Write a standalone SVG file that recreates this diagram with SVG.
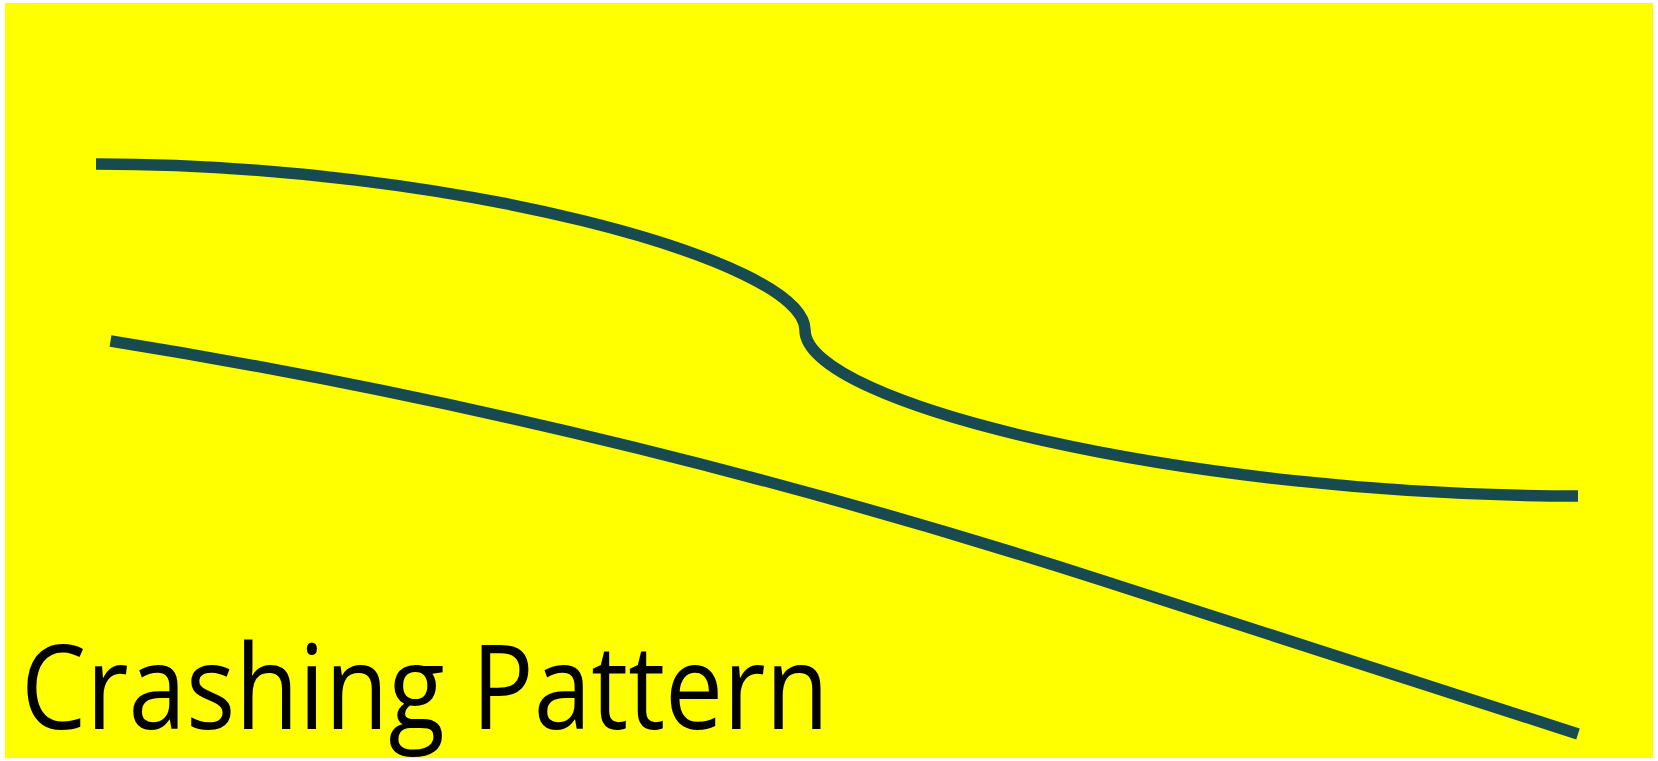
<svg xmlns="http://www.w3.org/2000/svg" width="1658" height="761" viewBox="0 0 1658 761">
  <style>
    .line { fill: none; stroke: #174b50; stroke-width: 11.5; stroke-linecap: butt; }
    .title { font-family: "Open Sans", "Noto Sans", "Liberation Sans", sans-serif; font-size: 118px; fill: #000000; }
  </style>
  <rect id="background" x="5" y="3" width="1648" height="755" fill="#ffff00"/>
  <g id="connectors">
    <path id="upper-curve" class="line" d="M96,164 C450,164 805,260 805,330 C805,405 1191,496 1578,496"/>
    <path id="lower-line" class="line" d="M110.5,341 Q607,420.5 1103.5,580.9 L1578,734"/>
  </g>
  <g id="title">
    <text class="title" x="21" y="729" textLength="808" lengthAdjust="spacingAndGlyphs">Crashing Pattern</text>
  </g>
</svg>
